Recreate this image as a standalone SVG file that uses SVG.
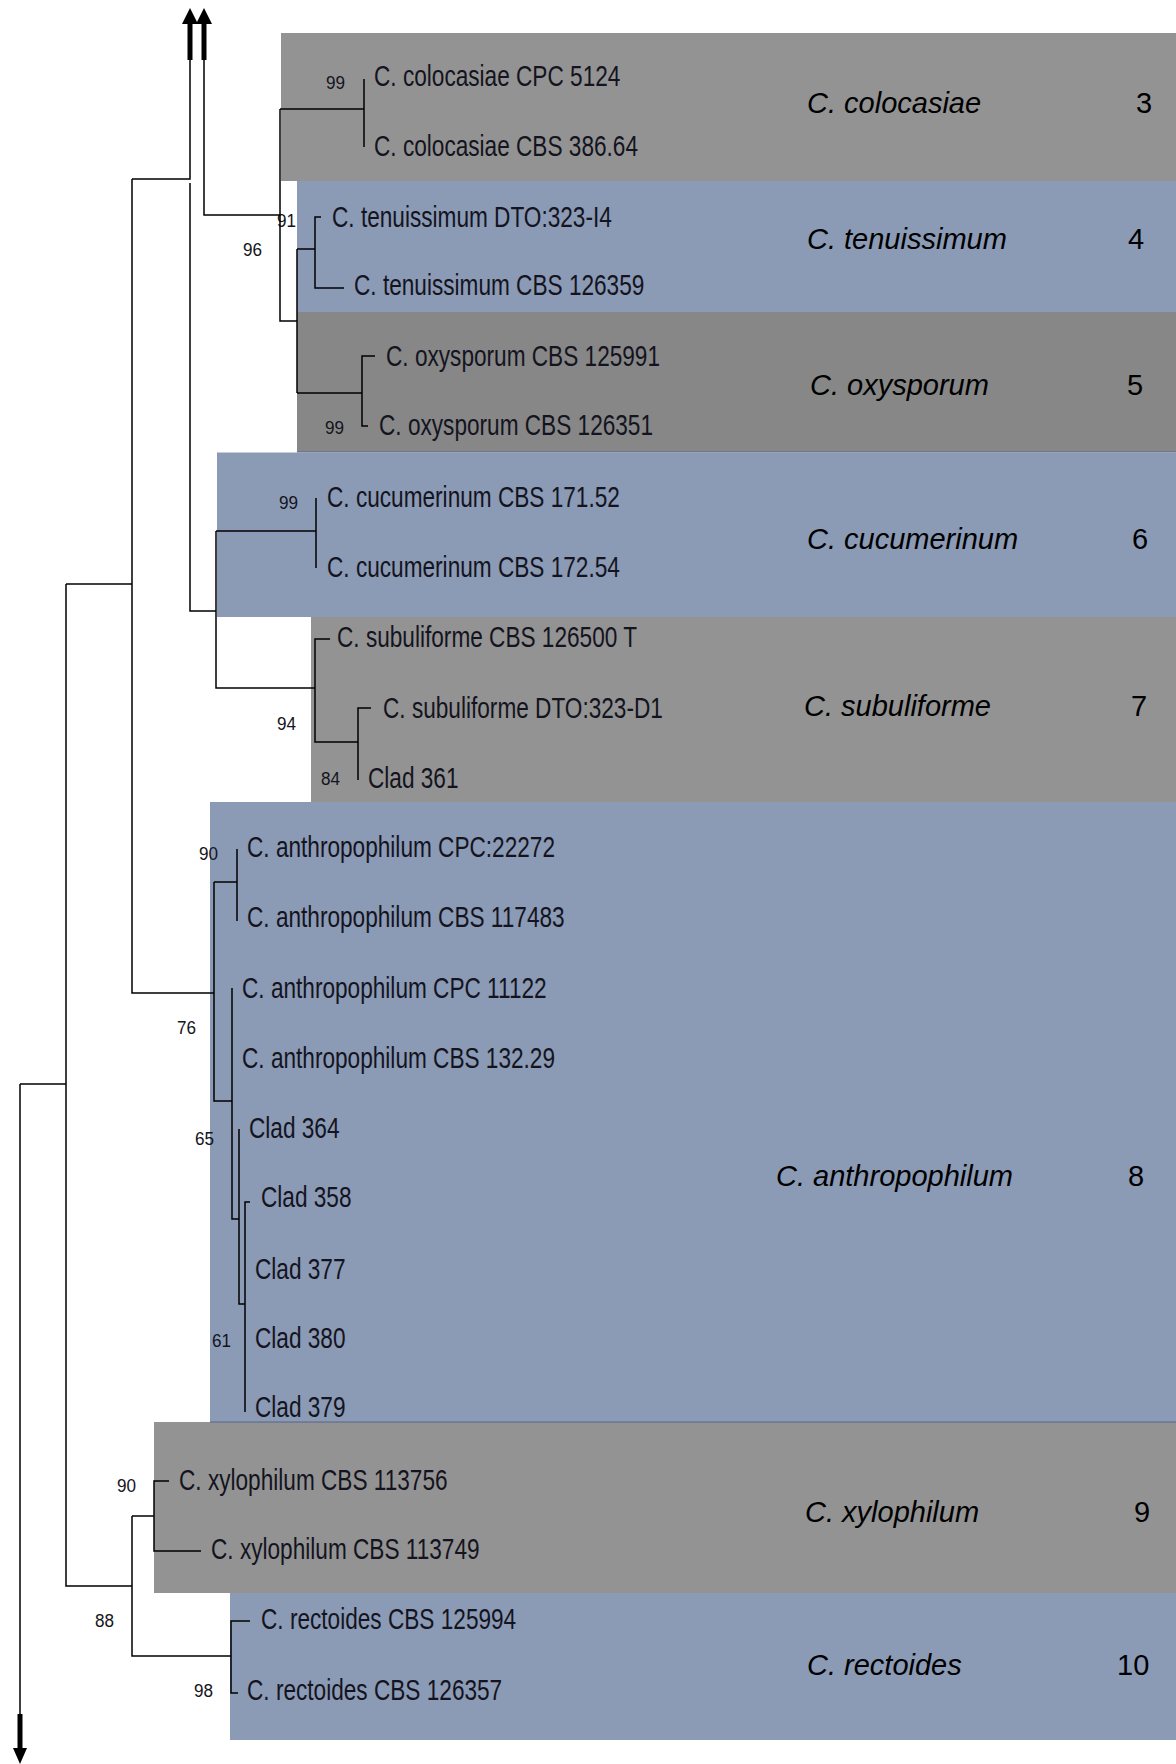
<svg xmlns="http://www.w3.org/2000/svg" width="1176" height="1764" viewBox="0 0 1176 1764">
<style>
.tx{font-family:"Liberation Sans",Arial,sans-serif;font-size:29px;fill:#141420}
.bs{font-family:"Liberation Sans",Arial,sans-serif;font-size:19px;fill:#141420}
.cl{font-family:"Liberation Sans",Arial,sans-serif;font-size:29px;font-style:italic;fill:#000}
.nm{font-family:"Liberation Sans",Arial,sans-serif;font-size:29px;fill:#000}
.grey{fill:#939393}
.dgrey{fill:#878787}
.blue{fill:#8b9ab5}
.ln{fill:none;stroke:#000;stroke-width:1.5}
.thick{fill:none;stroke:#000;stroke-width:5}
</style>
<rect width="1176" height="1764" fill="#fff"/>

<g id="clade-colocasiae">
<rect class="grey" x="281" y="33" width="895" height="148"/>
<text class="tx" transform="translate(374,86) scale(0.78,1)">C. colocasiae CPC 5124</text>
<text class="tx" transform="translate(374,156) scale(0.78,1)">C. colocasiae CBS 386.64</text>
<text class="bs" transform="translate(326,89) scale(0.9,1)">99</text>
<text class="cl" x="807" y="113">C. colocasiae</text>
<text class="nm" x="1136" y="113">3</text>
</g>

<g id="clade-tenuissimum">
<rect class="blue" x="297" y="181" width="879" height="131"/>
<text class="tx" transform="translate(332,227) scale(0.78,1)">C. tenuissimum DTO:323-I4</text>
<text class="tx" transform="translate(354,295) scale(0.78,1)">C. tenuissimum CBS 126359</text>
<text class="cl" x="807" y="249">C. tenuissimum</text>
<text class="nm" x="1128" y="249">4</text>
</g>

<g id="clade-oxysporum">
<rect class="dgrey" x="297" y="312" width="879" height="140"/>
<line x1="297" y1="452" x2="1176" y2="452" stroke="#56648a" stroke-width="1"/>
<text class="tx" transform="translate(386,366) scale(0.78,1)">C. oxysporum CBS 125991</text>
<text class="tx" transform="translate(379,435) scale(0.78,1)">C. oxysporum CBS 126351</text>
<text class="bs" transform="translate(325,434) scale(0.9,1)">99</text>
<text class="cl" x="810" y="395">C. oxysporum</text>
<text class="nm" x="1127" y="395">5</text>
</g>

<g id="clade-cucumerinum">
<rect class="blue" x="217" y="452.5" width="959" height="164.5"/>
<text class="tx" transform="translate(327,507) scale(0.78,1)">C. cucumerinum CBS 171.52</text>
<text class="tx" transform="translate(327,577) scale(0.78,1)">C. cucumerinum CBS 172.54</text>
<text class="bs" transform="translate(279,509) scale(0.9,1)">99</text>
<text class="cl" x="807" y="549">C. cucumerinum</text>
<text class="nm" x="1132" y="549">6</text>
</g>

<g id="clade-subuliforme">
<rect class="grey" x="311" y="617" width="865" height="185"/>
<text class="tx" transform="translate(337,647) scale(0.78,1)">C. subuliforme CBS 126500 T</text>
<text class="tx" transform="translate(383,718) scale(0.78,1)">C. subuliforme DTO:323-D1</text>
<text class="tx" transform="translate(368,788) scale(0.78,1)">Clad 361</text>
<text class="bs" transform="translate(277,730) scale(0.9,1)">94</text>
<text class="bs" transform="translate(321,785) scale(0.9,1)">84</text>
<text class="cl" x="804" y="716">C. subuliforme</text>
<text class="nm" x="1131" y="716">7</text>
</g>

<g id="clade-anthropophilum">
<rect class="blue" x="210" y="802" width="966" height="620"/>
<text class="tx" transform="translate(247,857) scale(0.78,1)">C. anthropophilum CPC:22272</text>
<text class="tx" transform="translate(247,927) scale(0.78,1)">C. anthropophilum CBS 117483</text>
<text class="tx" transform="translate(242,998) scale(0.78,1)">C. anthropophilum CPC 11122</text>
<text class="tx" transform="translate(242,1068) scale(0.78,1)">C. anthropophilum CBS 132.29</text>
<text class="tx" transform="translate(249,1138) scale(0.78,1)">Clad 364</text>
<text class="tx" transform="translate(261,1207) scale(0.78,1)">Clad 358</text>
<text class="tx" transform="translate(255,1279) scale(0.78,1)">Clad 377</text>
<text class="tx" transform="translate(255,1348) scale(0.78,1)">Clad 380</text>
<text class="tx" transform="translate(255,1417) scale(0.78,1)">Clad 379</text>
<text class="bs" transform="translate(199,860) scale(0.9,1)">90</text>
<text class="bs" transform="translate(177,1034) scale(0.9,1)">76</text>
<text class="bs" transform="translate(195,1145) scale(0.9,1)">65</text>
<text class="bs" transform="translate(212,1347) scale(0.9,1)">61</text>
<text class="cl" x="776" y="1186">C. anthropophilum</text>
<text class="nm" x="1128" y="1186">8</text>
</g>

<g id="clade-xylophilum">
<rect class="grey" x="154" y="1422" width="1022" height="171"/>
<line x1="210" y1="1422" x2="1176" y2="1422" stroke="#56648a" stroke-width="1"/>
<text class="tx" transform="translate(179,1490) scale(0.78,1)">C. xylophilum CBS 113756</text>
<text class="tx" transform="translate(211,1559) scale(0.78,1)">C. xylophilum CBS 113749</text>
<text class="bs" transform="translate(117,1492) scale(0.9,1)">90</text>
<text class="cl" x="805" y="1522">C. xylophilum</text>
<text class="nm" x="1134" y="1522">9</text>
</g>

<g id="clade-rectoides">
<rect class="blue" x="230" y="1593" width="946" height="147"/>
<text class="tx" transform="translate(261,1629) scale(0.78,1)">C. rectoides CBS 125994</text>
<text class="tx" transform="translate(247,1700) scale(0.78,1)">C. rectoides CBS 126357</text>
<text class="bs" transform="translate(95,1627) scale(0.9,1)">88</text>
<text class="bs" transform="translate(194,1697) scale(0.9,1)">98</text>
<text class="cl" x="807" y="1675">C. rectoides</text>
<text class="nm" x="1117" y="1675">10</text>
</g>

<g id="bootstrap-91-96">
<text class="bs" transform="translate(277,227) scale(0.9,1)">91</text>
<text class="bs" transform="translate(243,256) scale(0.9,1)">96</text>
</g>

<g id="connectors">
<!-- truncated branch arrows at top -->
<path class="thick" d="M190,22 V60"/>
<polygon points="190,8 182,24 198,24" fill="#000"/>
<path class="thick" d="M204,22 V60"/>
<polygon points="204,8 196,24 212,24" fill="#000"/>
<path class="ln" d="M190,59 V179 H132"/>
<path class="ln" d="M190,183 V611 H216"/>
<path class="ln" d="M204,59 V215 H280"/>
<!-- colocasiae / tenuissimum / oxysporum -->
<path class="ln" d="M280,109 V321 H297"/>
<path class="ln" d="M280,109 H364"/>
<path class="ln" d="M364,79 V147"/>
<path class="ln" d="M297,249 V393"/>
<path class="ln" d="M297,249 H315"/>
<path class="ln" d="M321,217 H315 V288 H344"/>
<path class="ln" d="M297,393 H362"/>
<path class="ln" d="M375,356 H362 V426 H368"/>
<!-- cucumerinum / subuliforme -->
<path class="ln" d="M216,531 H316"/>
<path class="ln" d="M316,498 V568"/>
<path class="ln" d="M216,531 V688 H315"/>
<path class="ln" d="M330,639 H315 V742 H358"/>
<path class="ln" d="M371,708 H358 V780"/>
<!-- outer backbone -->
<path class="ln" d="M132,179 V993 H214"/>
<path class="ln" d="M66,584 H132"/>
<path class="ln" d="M66,584 V1586 H132"/>
<path class="ln" d="M20,1084 H66"/>
<!-- anthropophilum -->
<path class="ln" d="M214,882 V1101 H232"/>
<path class="ln" d="M214,882 H237"/>
<path class="ln" d="M237,849 V921"/>
<path class="ln" d="M232,988 V1219 H239"/>
<path class="ln" d="M239,1129 V1304 H245"/>
<path class="ln" d="M250,1202 H245 V1412"/>
<!-- xylophilum / rectoides -->
<path class="ln" d="M132,1516 V1656 H231"/>
<path class="ln" d="M132,1516 H154"/>
<path class="ln" d="M169,1481 H154 V1551 H201"/>
<path class="ln" d="M250,1621 H231 V1693 H238"/>
<!-- truncated root arrow at bottom -->
<path class="ln" d="M20,1084 V1716"/>
<path class="thick" d="M20,1714 V1750"/>
<polygon points="20,1764 13,1748 27,1748" fill="#000"/>
</g>
</svg>
